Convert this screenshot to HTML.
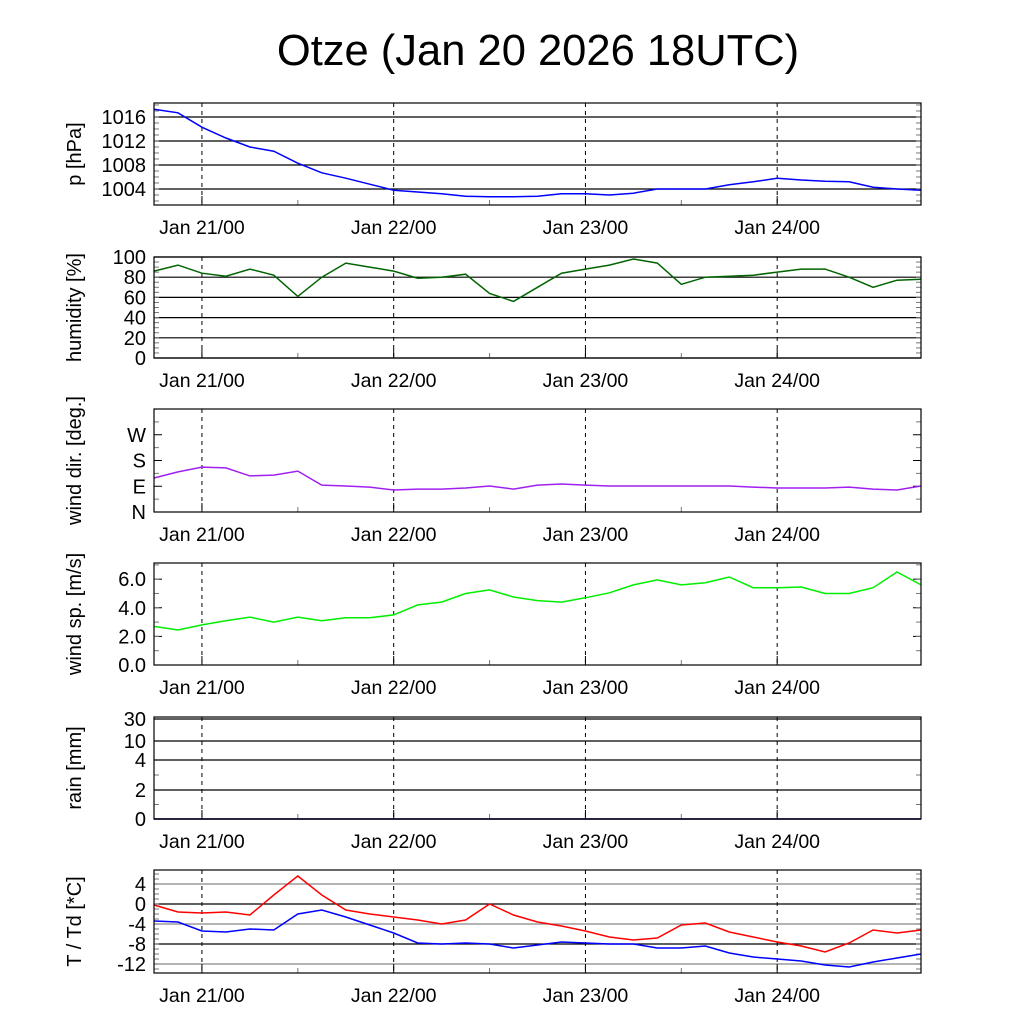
<!DOCTYPE html>
<html><head><meta charset="utf-8"><style>
body{margin:0;background:#fff;}
svg{display:block;font-family:"Liberation Sans",sans-serif;}
</style></head><body>
<svg id="chart" width="1024" height="1024" viewBox="0 0 1024 1024">
<text x="538" y="65" font-size="43.5" text-anchor="middle">Otze (Jan 20 2026 18UTC)</text>
</svg>
<script>
// hours from Jan 20 18UTC, 3-hourly
const hours=[0,3,6,9,12,15,18,21,24,27,30,33,36,39,42,45,48,51,54,57,60,63,66,69,72,75,78,81,84,87,90,93,96];
const pressure=[1017.3,1016.7,1014.3,1012.5,1011,1010.3,1008.3,1006.7,1005.8,1004.8,1003.8,1003.5,1003.2,1002.8,1002.7,1002.7,1002.8,1003.2,1003.2,1003,1003.3,1004,1004,1004,1004.7,1005.2,1005.8,1005.5,1005.3,1005.2,1004.3,1004,1003.8];
const humidity=[86,92,84,81,88,82,61,80,94,90,86,79,80,83,64,56,70,84,88,92,98,94,73,80,81,82,85,88,88,80,70,77,78];
const windDir=[119,140,157,154,126,129,143,94,91,87,77,80,80,84,91,80,94,98,94,91,91,91,91,91,91,87,84,84,84,87,80,77,91];
const windSpeed=[2.7,2.45,2.8,3.1,3.35,3.0,3.35,3.1,3.3,3.3,3.5,4.2,4.4,5.0,5.25,4.75,4.5,4.4,4.7,5.05,5.6,5.95,5.6,5.75,6.15,5.4,5.4,5.45,5.0,5.0,5.4,6.5,5.6];
const temp=[-0.2,-1.6,-1.8,-1.6,-2.2,1.8,5.6,1.8,-1.2,-2,-2.6,-3.2,-4,-3.2,0,-2.2,-3.6,-4.4,-5.4,-6.6,-7.2,-6.8,-4.2,-3.8,-5.6,-6.6,-7.6,-8.4,-9.6,-7.8,-5.2,-5.8,-5.2];
const dewpoint=[-3.4,-3.6,-5.4,-5.6,-5,-5.2,-2,-1.2,-2.6,-4.2,-5.8,-7.8,-8,-7.8,-8,-8.8,-8.2,-7.6,-7.8,-8,-8,-8.8,-8.8,-8.4,-9.8,-10.6,-11,-11.4,-12.2,-12.6,-11.6,-10.8,-10];
const rain=[0,0,0,0,0,0,0,0,0,0,0,0,0,0,0,0,0,0,0,0,0,0,0,0,0,0,0,0,0,0,0,0,0];
const dayLabels=["Jan 21/00","Jan 22/00","Jan 23/00","Jan 24/00"];
const dayHours=[6,30,54,78];

const NS="http://www.w3.org/2000/svg";
const svg=document.getElementById('chart');
const X0=154,X1=921;
const xs=h=>X0+h*(X1-X0)/96;
function el(tag,attrs,parent){const e=document.createElementNS(NS,tag);for(const k in attrs)e.setAttribute(k,attrs[k]);(parent||svg).appendChild(e);return e;}

function panel(cfg){
  const g=el('g',{});
  
  
  const {top,bot,vmin,vmax}=cfg;
  const ys=cfg.ys||(v=>bot-(v-vmin)*(bot-top)/(vmax-vmin));
  cfg.ticks.forEach((t,i)=>{
    const y=ys(t);
    if(cfg.grid){const l=el('line',{x1:X0,x2:X1,y1:y,y2:y,stroke:(cfg.gridColors?cfg.gridColors[i]:'#000'),'stroke-width':1.2},g);
      }
    else{el('line',{x1:X0,x2:X0+8,y1:y,y2:y,stroke:'#000'},g);el('line',{x1:X1-8,x2:X1,y1:y,y2:y,stroke:'#000'},g);}
    const tx=el('text',{x:146,y:y+7,'font-size':20,'text-anchor':'end'},g);
    tx.textContent=cfg.labels[i];
    
  });
  (cfg.minor||[]).forEach(t=>{const y=ys(t);
    el('line',{x1:X0,x2:X0+5,y1:y,y2:y,stroke:'#777'},g);el('line',{x1:X1-5,x2:X1,y1:y,y2:y,stroke:'#777'},g);});
  dayHours.forEach((h,i)=>{const x=xs(h);
    el('line',{x1:x,x2:x,y1:top,y2:bot,stroke:'#000','stroke-dasharray':'4,4'},g);
    el('line',{x1:x,x2:x,y1:bot-9,y2:bot,stroke:'#000'},g);
    const t=el('text',{x:x,y:bot+29,'font-size':19.5,'text-anchor':'middle'},g);
    t.textContent=dayLabels[i];
    
    if(i<3){const xm=xs(h+12);el('line',{x1:xm,x2:xm,y1:bot-5,y2:bot,stroke:'#777'},g);}
  });
  cfg.series.forEach(s=>{
    const d=s.data.map((v,i)=>(i?'L':'M')+xs(hours[i]).toFixed(1)+','+ys(v).toFixed(1)).join('');
    const p=el('path',{d:d,fill:'none',stroke:s.color,'stroke-width':1.5},g);
    
  });
  const fr=el('rect',{x:X0,y:top,width:X1-X0,height:bot-top,fill:'none',stroke:'#000','stroke-width':1.2},g);
  
  const cy=(top+bot)/2;
  const yt=el('text',{x:0,y:0,'font-size':20,'text-anchor':'middle',transform:`translate(${cfg.ylx||81},${cy}) rotate(-90)`},g);
  yt.textContent=cfg.ylabel;
  
}
const rng=(a,b,s)=>{const r=[];for(let v=a;v<=b+1e-9;v+=s)r.push(v);return r;};

panel({name:'pressure',top:103,bot:205,vmin:1001.33,vmax:1018.33,grid:true,ticks:[1004,1008,1012,1016],labels:['1004','1008','1012','1016'],minor:rng(1002,1018,1),ylabel:'p [hPa]',series:[{name:'pressure-line',data:pressure,color:'#0000ff'}]});
panel({name:'humidity',top:257,bot:358,vmin:0,vmax:100,grid:true,ticks:[0,20,40,60,80,100],labels:['0','20','40','60','80','100'],minor:rng(0,100,5),ylabel:'humidity [%]',series:[{name:'humidity-line',data:humidity,color:'#006400'}]});
panel({name:'wind-direction',top:409,bot:512,vmin:0,vmax:360,grid:false,ticks:[0,90,180,270],labels:['N','E','S','W'],minor:[45,135,225,315],ylabel:'wind dir. [deg.]',series:[{name:'wind-direction-line',data:windDir,color:'#a020f0'}]});
panel({name:'wind-speed',top:563,bot:665,vmin:0,vmax:7.13,grid:false,ticks:[0,2,4,6],labels:['0.0','2.0','4.0','6.0'],minor:rng(0,7,1),ylabel:'wind sp. [m/s]',series:[{name:'wind-speed-line',data:windSpeed,color:'#00ee00'}]});
const rainTicks=[0,2,4,10,30];const rainY=[819,790,760,741,719];
const rainYs=v=>{for(let i=1;i<rainTicks.length;i++){if(v<=rainTicks[i]){const f=(v-rainTicks[i-1])/(rainTicks[i]-rainTicks[i-1]);return rainY[i-1]+f*(rainY[i]-rainY[i-1]);}}return 717;};
panel({name:'rain',top:717,bot:819,ys:rainYs,grid:true,ticks:rainTicks,labels:['0','2','4','10','30'],minor:[1,3],ylabel:'rain [mm]',series:[{name:'rain-line',data:rain,color:'#00008b'}]});
panel({name:'temperature',top:870,bot:973,vmin:-13.8,vmax:6.8,grid:true,ticks:[-12,-8,-4,0,4],labels:['-12','-8','-4','0','4'],gridColors:['#888','#000','#888','#000','#888'],minor:rng(-13,6,1),ylabel:'T / Td [*C]',series:[{name:'temperature-line',data:temp,color:'#ff0000'},{name:'dewpoint-line',data:dewpoint,color:'#0000ff'}]});
</script>
</body></html>
